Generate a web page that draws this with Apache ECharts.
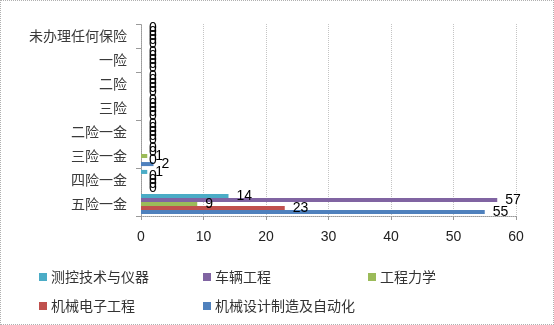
<!DOCTYPE html>
<html>
<head>
<meta charset="utf-8">
<script src="https://cdn.jsdelivr.net/npm/echarts@6/dist/echarts.min.js"></script>
<style>
  html, body { margin: 0; padding: 0; background: #fff; }
  #chart { width: 554px; height: 325px; box-sizing: border-box; border: 1px dotted #b0b0b0; }
</style>
</head>
<body>
<div id="chart"></div>
<script>
// Insurance categories, listed from the bottom of the axis to the top
const categories = ['五险一金', '四险一金', '三险一金', '二险一金', '三险', '二险', '一险', '未办理任何保险'];

// Student counts per major, same category order
const ceKong   = [14, 1, 0, 0, 0, 0, 0, 0];   // 测控技术与仪器
const cheLiang = [57, 0, 0, 0, 0, 0, 0, 0];   // 车辆工程
const liXue    = [9, 0, 1, 0, 0, 0, 0, 0];    // 工程力学
const jiDian   = [23, 0, 0, 0, 0, 0, 0, 0];   // 机械电子工程
const jiXie    = [55, 0, 2, 0, 0, 0, 0, 0];   // 机械设计制造及自动化

const xTicks = { min: 0, max: 60, interval: 10 };

const cjk = '"Noto Sans CJK SC", sans-serif';
const num = '"Liberation Sans", Arial, sans-serif';

function bar(name, data, color) {
  return {
    name: name,
    type: 'bar',
    data: data,
    barGap: '0%',
    barCategoryGap: '16%',
    itemStyle: { color: color },
    label: {
      show: true,
      position: 'right',
      distance: 8,
      color: '#000',
      fontFamily: num,
      fontSize: 14
    }
  };
}

// Series drawn from the top of each band downward
const series = [
  bar('测控技术与仪器', ceKong, '#4BACC6'),
  bar('车辆工程', cheLiang, '#8064A2'),
  bar('工程力学', liXue, '#9BBB59'),
  bar('机械电子工程', jiDian, '#C0504D'),
  bar('机械设计制造及自动化', jiXie, '#4F81BD')
];

function legendAt(name, left, top) {
  return {
    data: [name],
    left: left,
    top: top,
    icon: 'rect',
    itemWidth: 8,
    itemHeight: 8,
    itemGap: 0,
    selectedMode: false,
    textStyle: { fontFamily: cjk, fontSize: 14, color: '#333', padding: [0, 0, 0, -1] }
  };
}

const chart = echarts.init(document.getElementById('chart'), null, { renderer: 'canvas' });
chart.setOption({
  animation: false,
  grid: { left: 140, right: 37, top: 23, bottom: 108, containLabel: false },
  legend: [
    legendAt('测控技术与仪器', 33, 264),
    legendAt('车辆工程', 197, 264),
    legendAt('工程力学', 362, 264),
    legendAt('机械电子工程', 33, 293),
    legendAt('机械设计制造及自动化', 197, 293)
  ],
  xAxis: {
    type: 'value',
    min: xTicks.min,
    max: xTicks.max,
    interval: xTicks.interval,
    axisLine: { show: true, lineStyle: { color: '#9a9a9a', type: 'dotted' } },
    axisTick: { show: true, length: 4, lineStyle: { color: '#9a9a9a' } },
    axisLabel: { fontFamily: num, fontSize: 14, color: '#222', margin: 14 },
    splitLine: { show: true, lineStyle: { color: '#c4c4c4', type: 'dotted' } }
  },
  yAxis: {
    type: 'category',
    data: categories,
    axisLine: { show: true, lineStyle: { color: '#9a9a9a', type: 'dotted' } },
    axisTick: { show: true, length: 5, interval: 1, lineStyle: { color: '#9a9a9a' } },
    axisLabel: { interval: 0, fontFamily: cjk, fontSize: 14, color: '#3a3a3a', margin: 14 }
  },
  series: series
});
</script>
</body>
</html>
